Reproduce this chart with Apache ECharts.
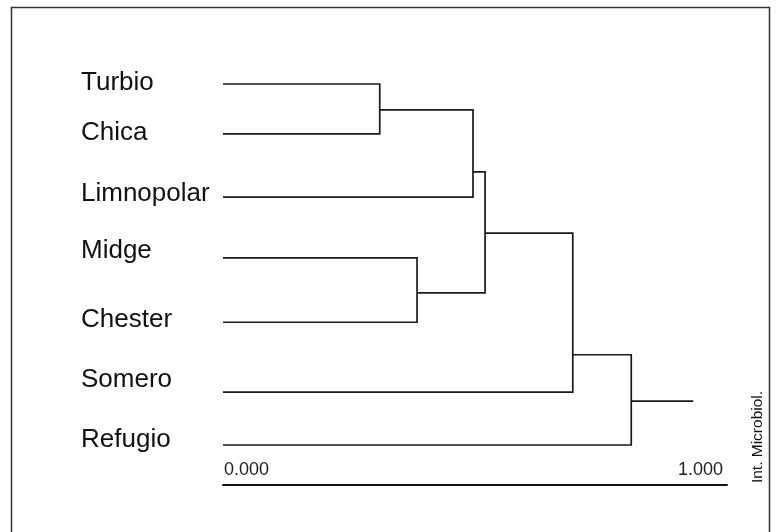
<!DOCTYPE html>
<html>
<head>
<meta charset="utf-8">
<script src="https://cdn.jsdelivr.net/npm/echarts@6/dist/echarts.min.js"></script>
<style>
  html, body { margin: 0; padding: 0; background: #fff; }
  #chart { width: 776px; height: 532px; }
</style>
</head>
<body>
<div id="chart"></div>
<script>
// Sampling sites (dendrogram leaves, top to bottom)
const leaves = ['Turbio', 'Chica', 'Limnopolar', 'Midge', 'Chester', 'Somero', 'Refugio'];
// Agglomeration steps: members joined (leaf name, or 'mN' for step N) and linkage distance
const mergeA = ['Turbio', 'Midge', 'm0', 'm2', 'm3', 'm4'];
const mergeB = ['Chica', 'Chester', 'Limnopolar', 'm1', 'Somero', 'Refugio'];
const mergeDist = [0.311, 0.385, 0.496, 0.520, 0.694, 0.810];
const rootDist = 0.933;
// Distance scale bar labels
const scaleTicks = [0, 1];

// Tree layout: row of each leaf and of each step's connector (row units on the y axis)
const leafRow = [0, 0.83, 1.88, 2.89, 3.96, 5.12, 6.0];
const mergeRow = [0.43, 3.47, 1.46, 2.48, 4.5, 5.27];
// How far each site name sits above its branch (px)
const labelLift = [1, 1, 3, 7, 2, 12, 5];

// Resolve a member to its [distance, row]
function member(id) {
  if (/^m\d+$/.test(id)) {
    const k = +id.slice(1);
    return [mergeDist[k], mergeRow[k]];
  }
  return [0, leafRow[leaves.indexOf(id)]];
}

// Build the dendrogram as elbow polylines in data space
const links = [];
for (let i = 0; i < mergeDist.length; i++) {
  const a = member(mergeA[i]);
  const b = member(mergeB[i]);
  links.push([[a[0], a[1]], [mergeDist[i], a[1]], [mergeDist[i], b[1]], [b[0], b[1]]]);
}
const last = mergeDist.length - 1;
links.push([[mergeDist[last], mergeRow[last]], [rootDist, mergeRow[last]]]);

const FONT = '"Liberation Sans", Arial, sans-serif';
const chart = echarts.init(document.getElementById('chart'), null, { renderer: 'canvas' });

chart.setOption({
  animation: false,
  backgroundColor: '#ffffff',
  grid: { left: 223, right: 49, top: 84, bottom: 87 },
  xAxis: {
    type: 'value',
    min: 0,
    max: 1,
    position: 'bottom',
    offset: 40,
    axisLine: { show: true, onZero: false, lineStyle: { color: '#111', width: 2 } },
    axisTick: { show: false },
    splitLine: { show: false },
    axisLabel: {
      inside: true,
      customValues: scaleTicks,
      formatter: v => v.toFixed(3),
      alignMinLabel: 'left',
      alignMaxLabel: 'right',
      padding: [0, 4, 0, 1],
      margin: 6,
      color: '#222',
      fontFamily: FONT,
      fontSize: 18
    }
  },
  yAxis: {
    type: 'value',
    min: 0,
    max: 6,
    inverse: true,
    axisLine: { show: false },
    axisTick: { show: false },
    splitLine: { show: false },
    axisLabel: { show: false }
  },
  series: [
    {
      // branches
      type: 'custom',
      coordinateSystem: 'cartesian2d',
      data: links.map((pts, i) => ({ value: [i] })),
      renderItem: function (params, api) {
        const pts = links[params.dataIndex].map(p => api.coord(p));
        return {
          type: 'polyline',
          shape: { points: pts },
          style: { stroke: '#1a1a1a', lineWidth: 1.7, fill: null }
        };
      },
      silent: true
    },
    {
      // site names
      type: 'custom',
      coordinateSystem: 'cartesian2d',
      data: leaves.map((name, i) => ({ value: [0, leafRow[i]], name: name })),
      renderItem: function (params, api) {
        const p = api.coord([api.value(0), api.value(1)]);
        const i = params.dataIndex;
        return {
          type: 'text',
          x: p[0] - 142,
          y: p[1] - labelLift[i],
          style: {
            text: leaves[i],
            fill: '#111',
            font: '26px ' + FONT,
            align: 'left',
            verticalAlign: 'middle'
          }
        };
      },
      silent: true
    }
  ],
  graphic: [
    {
      type: 'rect',
      shape: { x: 11.5, y: 7.5, width: 758, height: 560 },
      style: { stroke: '#333', lineWidth: 1.5, fill: null },
      silent: true
    },
    {
      type: 'text',
      x: 758,
      y: 437,
      rotation: Math.PI / 2,
      style: {
        text: 'Int. Microbiol.',
        fill: '#111',
        font: '15.5px ' + FONT,
        align: 'center',
        verticalAlign: 'middle'
      },
      silent: true
    }
  ]
});
</script>
</body>
</html>
